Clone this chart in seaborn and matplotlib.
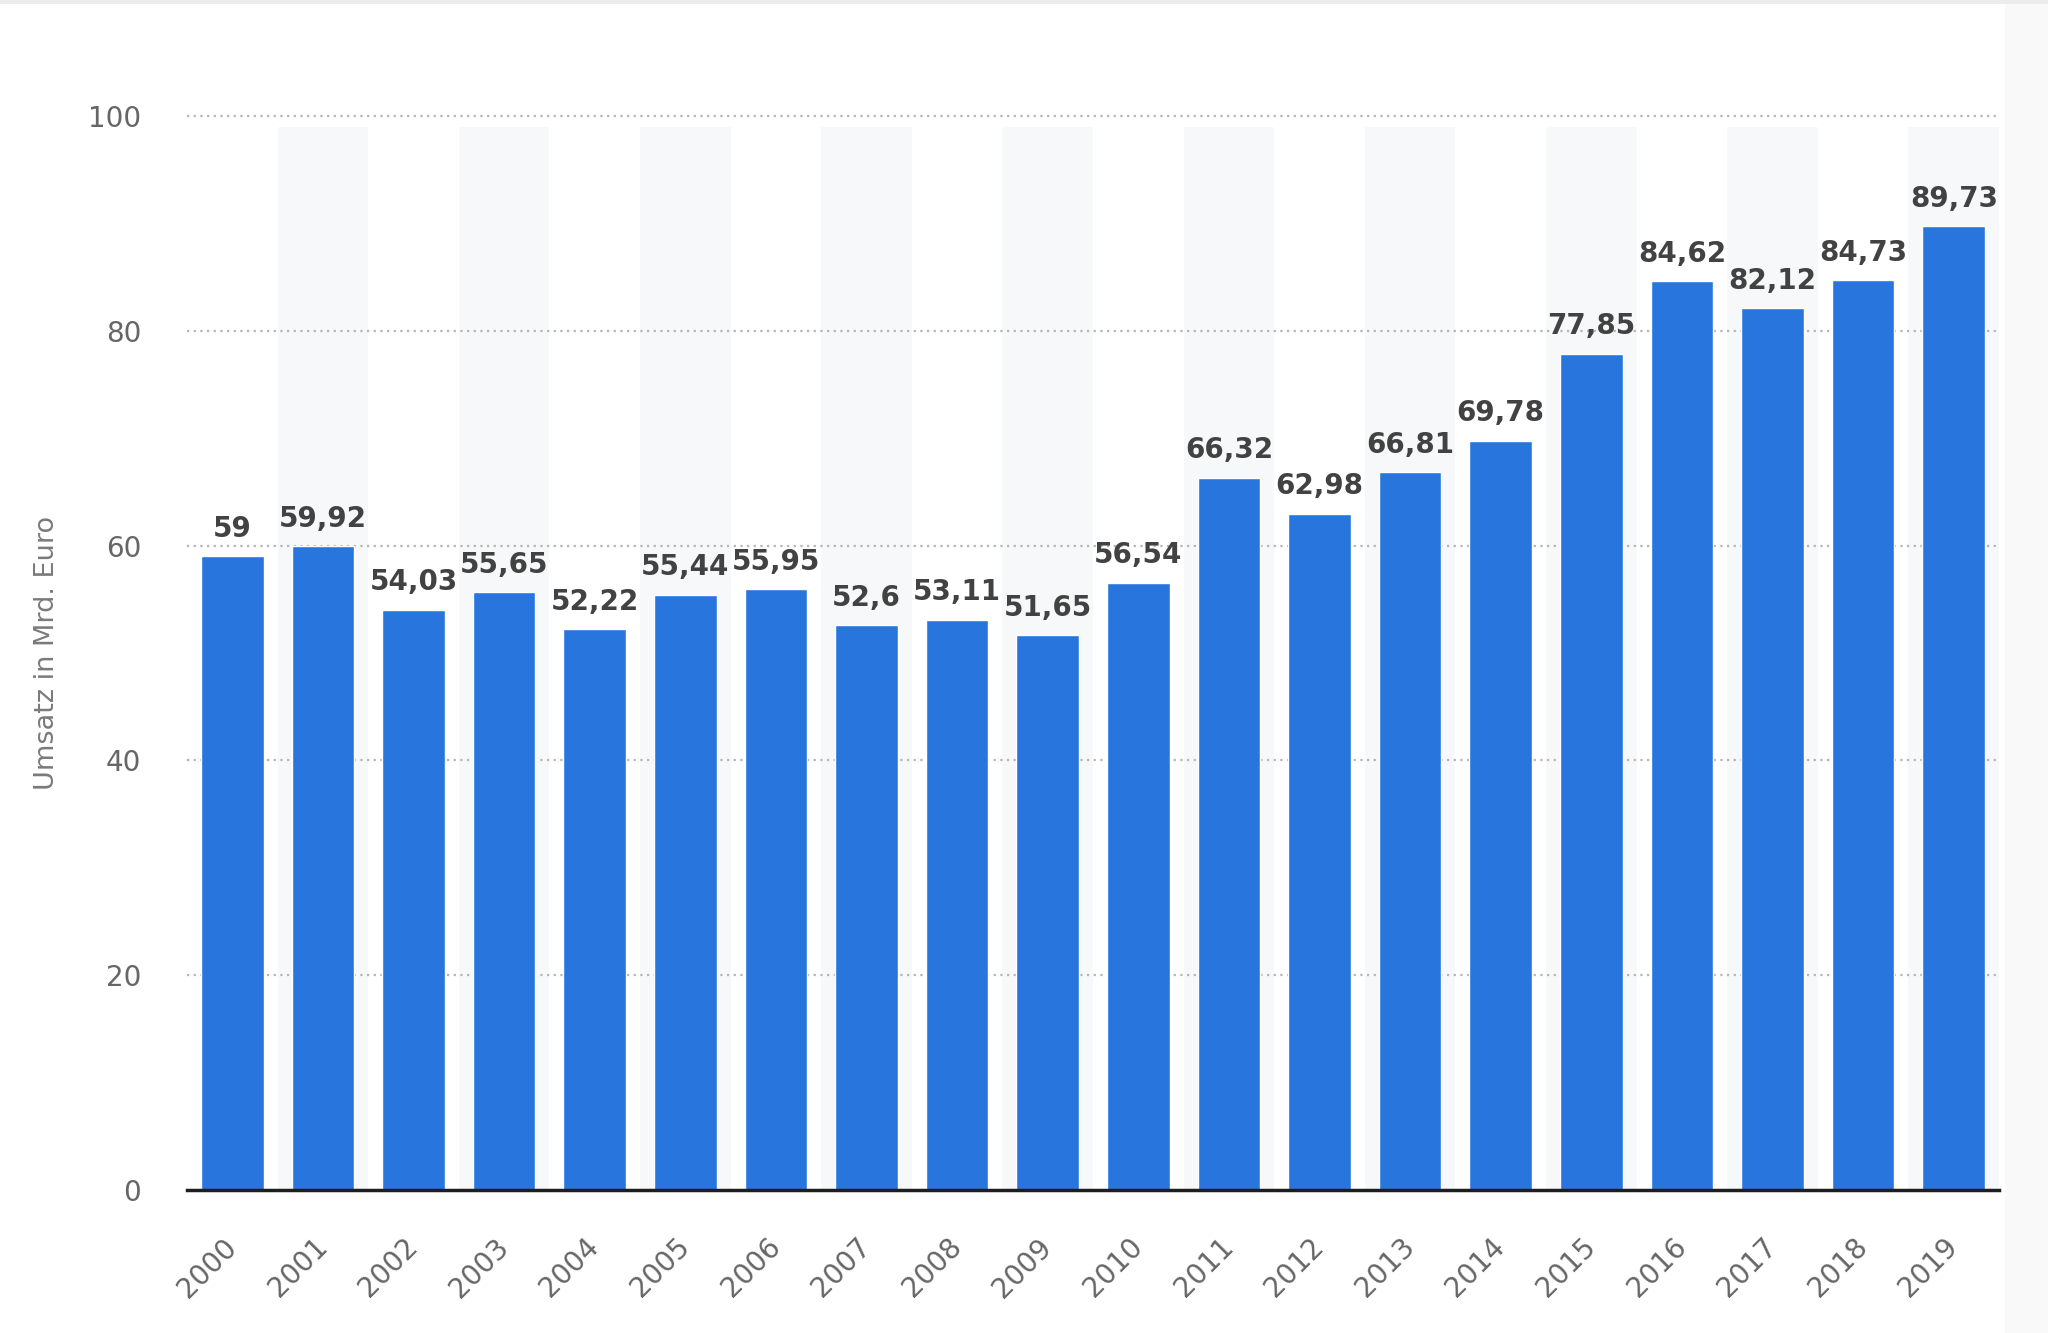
import matplotlib
matplotlib.use("Agg")
import matplotlib.pyplot as plt
import seaborn as sns
import pandas as pd
from matplotlib.patches import Rectangle

years = [str(y) for y in range(2000, 2020)]
umsatz = [59.00, 59.92, 54.03, 55.65, 52.22, 55.44, 55.95, 52.60, 53.11, 51.65,
          56.54, 66.32, 62.98, 66.81, 69.78, 77.85, 84.62, 82.12, 84.73, 89.73]
value_labels = ["59", "59,92", "54,03", "55,65", "52,22", "55,44", "55,95", "52,6",
                "53,11", "51,65", "56,54", "66,32", "62,98", "66,81", "69,78",
                "77,85", "84,62", "82,12", "84,73", "89,73"]
y_ticks = [0, 20, 40, 60, 80, 100]
y_label = "Umsatz in Mrd. Euro"

df = pd.DataFrame({"Jahr": years, "Umsatz": umsatz})

sns.set_theme(style="white")
plt.rcParams["font.family"] = ["DejaVu Sans"]

fig = plt.figure(figsize=(20.48, 13.33), dpi=100)
ax = fig.add_axes([0.0913, 0.1073, 0.8848, 0.8057])

# alternating background bands
for i in range(len(years)):
    if i % 2 == 1:
        ax.axvspan(i - 0.5, i + 0.5, ymin=0, ymax=0.99, color="#f7f8f9", zorder=0, lw=0)

sns.barplot(data=df, x="Jahr", y="Umsatz", color="#2876dd", saturation=1,
            width=0.69, ax=ax, zorder=3)

for i, (v, lab) in enumerate(zip(umsatz, value_labels)):
    ax.annotate(lab, (i, v), xytext=(0, 14), textcoords="offset points",
                ha="center", va="baseline", fontsize=20, fontweight="bold",
                color="#424242", zorder=5)

ax.set_xlim(-0.5, len(years) - 0.5)
ax.set_ylim(0, 100)
ax.set_yticks(y_ticks)
ax.set_yticklabels([str(t) for t in y_ticks])
for y in y_ticks[1:]:
    ax.axhline(y, color="#b5b5b5", lw=1.6, ls=(0, (1, 2)), zorder=1, clip_on=False)

for s in ["top", "right", "left"]:
    ax.spines[s].set_visible(False)
ax.spines["bottom"].set_color("#1e1e1e")
ax.spines["bottom"].set_linewidth(2.5)
ax.spines["bottom"].set_zorder(6)

ax.tick_params(axis="y", length=0, pad=33, labelsize=20, labelcolor="#666666")
ax.tick_params(axis="x", length=0, pad=38, labelsize=20, labelcolor="#666666")
for t in ax.get_xticklabels():
    t.set_rotation(45)
    t.set_ha("right")
    t.set_va("center")
    t.set_rotation_mode("anchor")

ax.set_xlabel("")
ax.set_ylabel(y_label, fontsize=19.5, color="#7a7a7a", labelpad=20)

# page decorations
fig.patches.append(Rectangle((0.979, 0), 0.021, 1, transform=fig.transFigure,
                             color="#f9f9f9", zorder=-1, lw=0))
fig.patches.append(Rectangle((0, 0.997), 1, 0.003, transform=fig.transFigure,
                             color="#ececec", zorder=-1, lw=0))

fig.savefig("out.png", dpi=100)
